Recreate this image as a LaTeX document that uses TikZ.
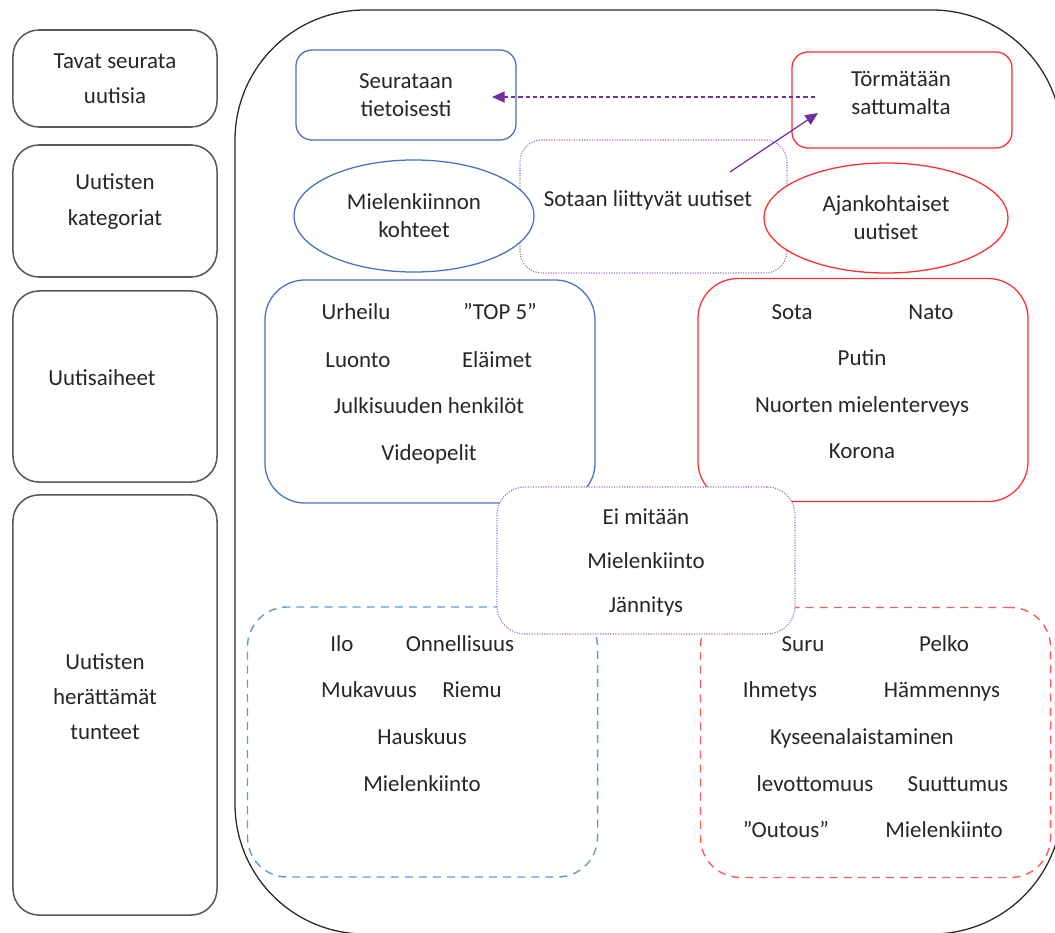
\documentclass[tikz,border=0pt]{standalone}
\usepackage{fontspec}
\setmainfont{Carlito}
\usepackage{xcolor}
\usetikzlibrary{arrows.meta, positioning, shapes.geometric}
\definecolor{sininen}{HTML}{4472C4}
\definecolor{vaaleansininen}{HTML}{5B9BD5}
\definecolor{punainen}{HTML}{FF2E2E}
\definecolor{vaaleanpunainen}{HTML}{FF5B5B}
\definecolor{violetti}{HTML}{7030A0}
\definecolor{vaaleavioletti}{HTML}{A070D0}
\definecolor{harmaa}{HTML}{595959}
\definecolor{teksti}{HTML}{262626}

\begin{document}
\begin{tikzpicture}[
  x=0.025cm, y=-0.025cm,
  font=\fontsize{16.3}{20}\selectfont, text=teksti,
  otsikko/.style={rectangle, rounded corners=0.65cm, draw=harmaa, line width=1.1pt,
                  minimum width=5.1cm, inner sep=0pt, align=center,
                  font=\fontsize{16.3}{25}\selectfont},
  otsikkoteksti/.style={inner sep=0pt, align=center, font=\fontsize{16.3}{25}\selectfont},
  sininenlaatikko/.style={rectangle, rounded corners=0.4cm, draw=sininen, line width=0.9pt,
                  minimum width=5.5cm, minimum height=2.25cm, inner sep=0pt, align=center},
  punainenlaatikko/.style={rectangle, rounded corners=0.4cm, draw=punainen, line width=0.9pt,
                  minimum width=5.5cm, minimum height=2.4cm, inner sep=0pt, align=center},
  soikio/.style={ellipse, fill=white, line width=0.9pt, inner sep=0pt, align=center},
  aihe/.style={rectangle, rounded corners=1cm, line width=0.9pt,
               minimum width=8.25cm, minimum height=5.575cm, inner sep=0pt},
  tunne/.style={rectangle, rounded corners=1cm, line width=1pt,
                dash pattern=on 5.7pt off 4.3pt,
                minimum width=8.75cm, minimum height=6.75cm, inner sep=0pt},
  pisteet/.style={rectangle, draw=vaaleavioletti, line width=0.8pt, densely dotted, fill=white,
                  inner sep=0pt, align=center},
  sana/.style={inner sep=0pt, text height=11pt, text depth=3.5pt},
  nuoli/.style={-{Triangle[length=9pt, width=8pt]}, line width=0.9pt, violetti},
  katkonuoli/.style={-{Triangle[length=9pt, width=8pt]}, line width=0.9pt, violetti,
                     dash pattern=on 3pt off 2.2pt},
]
\useasboundingbox (0,0) rectangle (1055,933);

% --- Kehys ---
\begin{scope}
  \clip (0,0) rectangle (1055,933);
  \draw[line width=0.9pt, black!85, rounded corners=3.25cm] (235,10) rectangle (1062,934);
\end{scope}

% --- Vasemman reunan otsikot ---
\node[otsikko, minimum height=2.425cm] (tavat) at (115,78.5) {Tavat seurata\\uutisia};
\node[otsikko, minimum height=3.3cm]   (kategoriat) at (115,211) {};
\node[otsikkoteksti] (kategoriatTeksti) at (115,201.5) {Uutisten\\kategoriat};
\node[otsikko, minimum height=4.775cm] (aiheet) at (115,386.5) {};
\node[otsikkoteksti] (aiheetTeksti) at (102,378) {Uutisaiheet};
\node[otsikko, minimum height=10.5cm]  (tunteet) at (115,705) {};
\node[otsikkoteksti] (tunteetTeksti) at (105,697) {Uutisten\\herättämät\\tunteet};

% --- Tavat seurata ---
\node[sininenlaatikko] (seurataan) at (406,95) {Seurataan\\tietoisesti};
\node[punainenlaatikko] (tormataan) at (902,100) {};
\node[align=center, inner sep=0pt] (tormataanTeksti) at (901,93) {Törmätään\\sattumalta};

% --- Kategoriat ---
\node[pisteet, rounded corners=0.55cm, minimum width=6.675cm, minimum height=3.325cm]
  (sotaan) at (653.5,206.5) {};
\node[sana] (sotaanTeksti) at (648,201) {Sotaan liittyvät uutiset};
\node[soikio, draw=sininen, minimum width=6cm, minimum height=2.8cm]
  (mielenkiinnon) at (414,216) {Mielenkiinnon\\kohteet};
\node[soikio, draw=punainen, minimum width=6.1cm, minimum height=2.75cm]
  (ajankohtaiset) at (886,218) {Ajankohtaiset\\uutiset};

% --- Nuolet ---
\coordinate (katkoAlku) at (815,97);
\coordinate (katkoLoppu) at (492,97);
\draw[katkonuoli] (katkoAlku) -- (katkoLoppu);
\coordinate (nuoliAlku) at (730,172);
\coordinate (nuoliLoppu) at (818,113);
\draw[nuoli] (nuoliAlku) -- (nuoliLoppu);

% --- Uutisaiheet ---
\node[aihe, draw=sininen]  (sinisetAiheet)  at (430,391.5) {};
\node[aihe, draw=punainen] (punaisetAiheet) at (863,390) {};

\node[sana] (urheilu)    at (356,314) {Urheilu};
\node[sana] (top)        at (500,314) {”TOP 5”};
\node[sana] (luonto)     at (358,362) {Luonto};
\node[sana] (elaimet)    at (497,362) {Eläimet};
\node[sana] (julkisuus)  at (429,408) {Julkisuuden henkilöt};
\node[sana] (videopelit) at (429,455) {Videopelit};

\node[sana] (sota)   at (792,314) {Sota};
\node[sana] (nato)   at (931,314) {Nato};
\node[sana] (putin)  at (862,360) {Putin};
\node[sana] (nuoret) at (862,407) {Nuorten mielenterveys};
\node[sana] (korona) at (862,453) {Korona};

% --- Tunteet ---
\node[tunne, draw=vaaleansininen]  (sinisetTunteet)  at (422.5,742) {};
\node[tunne, draw=vaaleanpunainen] (punaisetTunteet) at (875.5,742.5) {};

\node[sana] (ilo)          at (342,646) {Ilo};
\node[sana] (onnellisuus)  at (460,646) {Onnellisuus};
\node[sana] (mukavuus)     at (369,692) {Mukavuus};
\node[sana] (riemu)        at (472,692) {Riemu};
\node[sana] (hauskuus)     at (422,739) {Hauskuus};
\node[sana] (mielenkiintoA) at (422,786) {Mielenkiinto};

\node[sana] (suru)       at (803,646) {Suru};
\node[sana] (pelko)      at (944,646) {Pelko};
\node[sana] (ihmetys)    at (780,692) {Ihmetys};
\node[sana] (hammennys)  at (942,692) {Hämmennys};
\node[sana] (kyseenalaistaminen) at (862,739) {Kyseenalaistaminen};
\node[sana] (levottomuus) at (815,786) {levottomuus};
\node[sana] (suuttumus)  at (958,786) {Suuttumus};
\node[sana] (outous)     at (786,832) {”Outous”};
\node[sana] (mielenkiintoB) at (944,832) {Mielenkiinto};

% --- Yhteiset tunteet ---
\node[pisteet, rounded corners=0.7cm, minimum width=7.45cm, minimum height=3.675cm]
  (yhteiset) at (646,560.5) {};
\node[sana] (eiMitaan)      at (646,519) {Ei mitään};
\node[sana] (mielenkiintoC) at (646,563) {Mielenkiinto};
\node[sana] (jannitys)      at (646,607) {Jännitys};

\end{tikzpicture}
\end{document}
